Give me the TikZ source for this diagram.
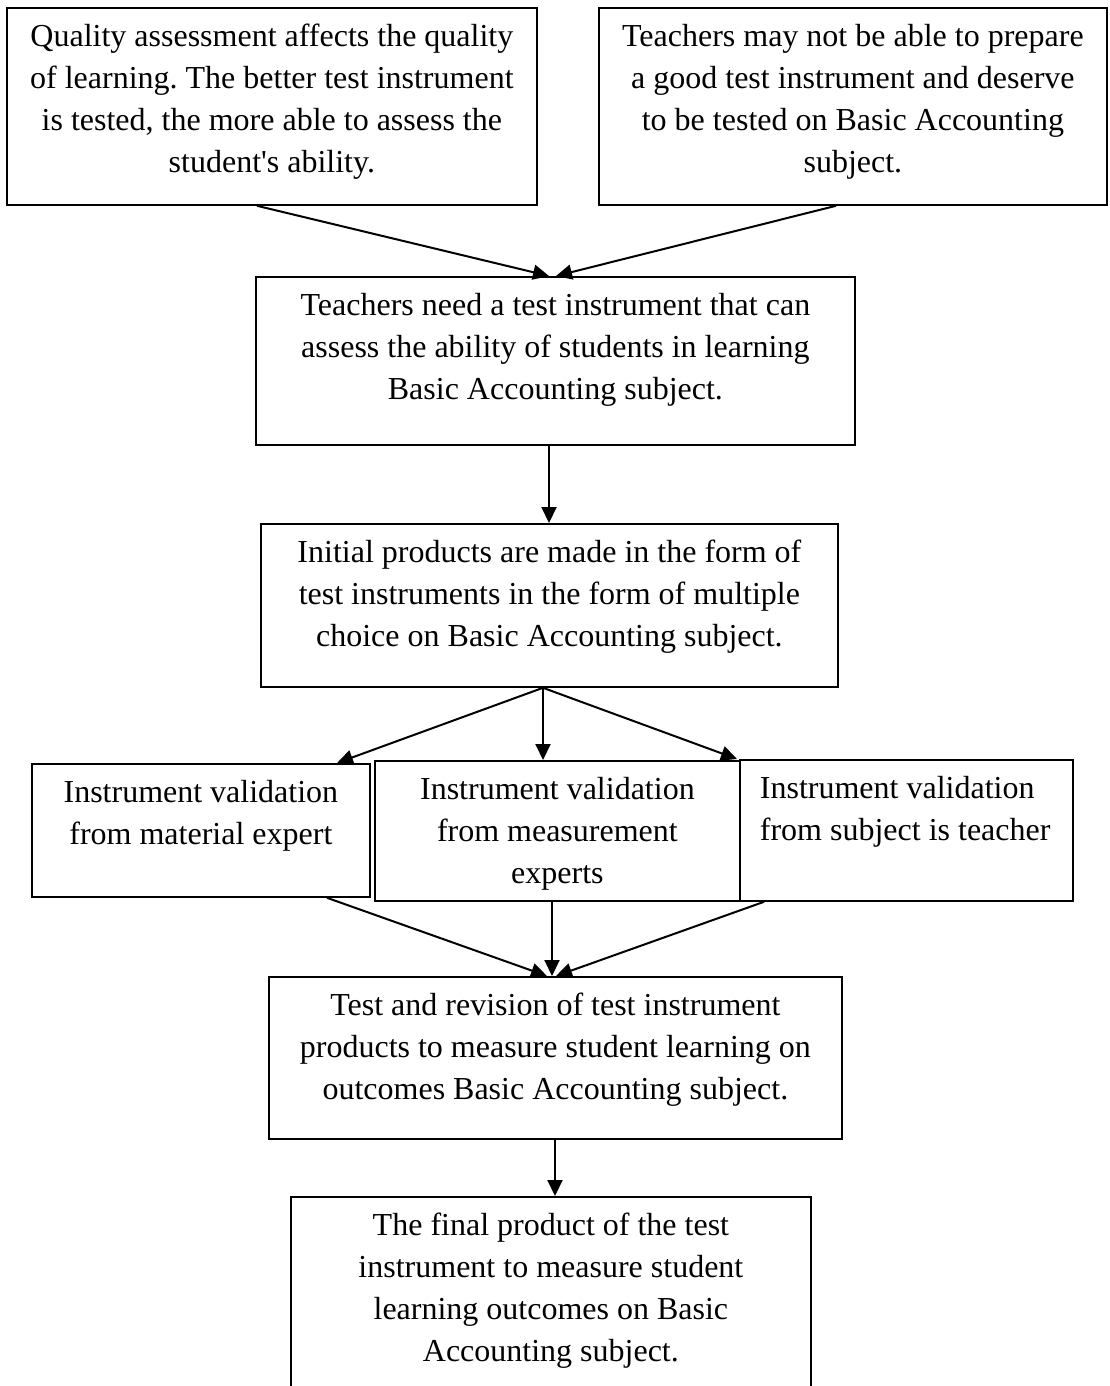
\documentclass[tikz,border=0pt]{standalone}
\usepackage{fontspec}
\setmainfont{Liberation Serif}
\newfontfamily\rawserif{Liberation Serif}
\usetikzlibrary{arrows.meta}
\newcommand{\boxtext}[4]{\begin{minipage}[t][#2pt][t]{#1pt}\frenchspacing#3\rule{0pt}{39pt}#4\end{minipage}}
\tikzset{
  box/.style={draw, line width=1.8pt, inner sep=0pt, anchor=north west, font=\fontsize{32}{42}\selectfont},
  arr/.style={line width=2pt, -{Triangle[length=16pt,width=15pt]}}
}
\begin{document}
\begin{tikzpicture}[x=1pt,y=-1pt]
\clip (0,0) rectangle (1110,1386);
\fill[white] (0,0) rectangle (1110,1386);
\node[box] (b1) at (6,7) {\boxtext{530}{197}{\centering}{Quality assessment affects the quality\\of learning. The better test instrument\\is tested, the more able to assess the\\student{\rawserif'}s ability.}};
\node[box] (b2) at (598,7) {\boxtext{508}{197}{\centering}{Teachers may not be able to prepare\\a good test instrument and deserve\\to be tested on Basic Accounting\\subject.}};
\node[box] (b3) at (255,276) {\boxtext{599}{168}{\centering}{Teachers need a test instrument that can\\assess the ability of students in learning\\Basic Accounting subject.}};
\node[box] (b4) at (260,523) {\boxtext{577}{163}{\centering}{Initial products are made in the form of\\test instruments in the form of multiple\\choice on Basic Accounting subject.}};
\node[box] (b5) at (31,763) {\boxtext{338}{133}{\centering}{Instrument validation\\from material expert}};
\node[box] (b6) at (374,760) {\boxtext{365}{140}{\centering}{Instrument validation\\from measurement\\experts}};
\node[box] (b7) at (739,759) {\boxtext{333}{141}{\raggedright\leftskip=20pt}{Instrument validation\\from subject is teacher}};
\node[box] (b8) at (268,976) {\boxtext{573}{162}{\centering}{Test and revision of test instrument\\products to measure student learning on\\outcomes Basic Accounting subject.}};
\node[box] (b9) at (290,1196) {\boxtext{520}{230}{\centering}{The final product of the test\\instrument to measure student\\learning outcomes on Basic\\Accounting subject.}};
\draw[arr] ([xshift=251pt]b1.south west) -- ([xshift=294pt]b3.north west);
\draw[arr] ([xshift=238pt]b2.south west) -- ([xshift=301pt]b3.north west);
\draw[arr] ([xshift=294pt]b3.south west) -- ([xshift=289pt]b4.north west);
\draw[arr] ([xshift=283pt]b4.south west) -- ([xshift=306pt]b5.north west);
\draw[arr] ([xshift=283pt]b4.south west) -- ([xshift=169pt]b6.north west);
\draw[arr] ([xshift=283pt]b4.south west) -- ([xshift=-2pt]b7.north west);
\draw[arr] ([xshift=296pt]b5.south west) -- ([xshift=279pt]b8.north west);
\draw[arr] ([xshift=178pt]b6.south west) -- ([xshift=284pt]b8.north west);
\draw[arr] ([xshift=25pt]b7.south west) -- ([xshift=288pt]b8.north west);
\draw[arr] ([xshift=287pt]b8.south west) -- ([xshift=265pt]b9.north west);
\end{tikzpicture}
\end{document}
